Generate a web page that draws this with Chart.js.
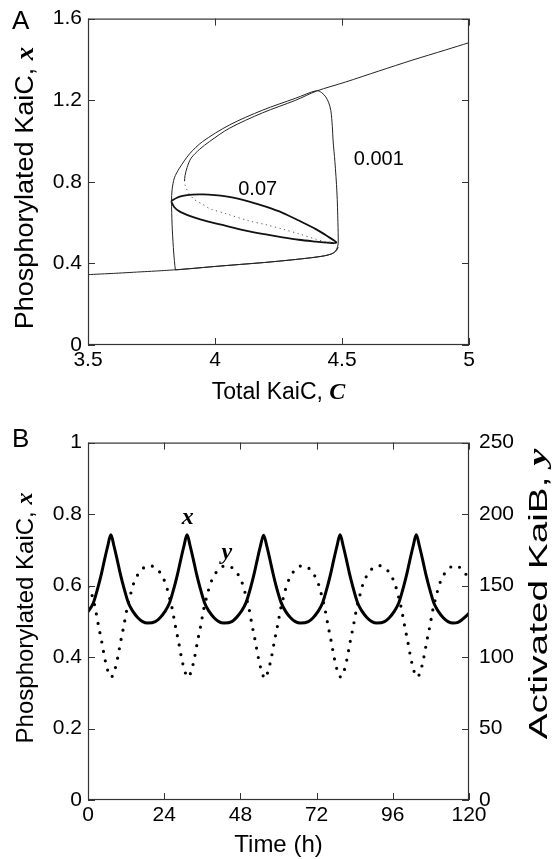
<!DOCTYPE html>
<html>
<head>
<meta charset="utf-8">
<script src="https://cdn.jsdelivr.net/npm/chart.js@4.4.1/dist/chart.umd.min.js"></script>
<style>
  html, body { margin: 0; padding: 0; background: #fff; }
  #wrap { position: relative; width: 552px; height: 859px; overflow: hidden; }
  canvas { position: absolute; left: 0; }
  #chartA { top: 0; }
  #chartB { top: 420px; }
</style>
</head>
<body>
<div id="wrap">
  <canvas id="chartA" width="552" height="420"></canvas>
  <canvas id="chartB" width="552" height="439"></canvas>
</div>
<script>
// ---- Panel A: total KaiC C vs phosphorylated KaiC x ----
var lowerBranchC = [3.5, 3.6, 3.7, 3.8, 3.9, 4.0, 4.1, 4.2, 4.3, 4.38, 4.43, 4.46, 4.478, 4.485];
var lowerBranchX = [0.345, 0.351, 0.358, 0.365, 0.374, 0.385, 0.395, 0.405, 0.417, 0.428, 0.437, 0.447, 0.462, 0.48];

var middleBranchC = [4.485, 4.469, 4.43, 4.397, 4.33, 4.266, 4.2, 4.135, 4.04, 3.98, 3.951, 3.92, 3.9, 3.888, 3.882, 3.88];
var middleBranchX = [0.48, 0.498, 0.508, 0.519, 0.545, 0.568, 0.59, 0.608, 0.645, 0.668, 0.69, 0.712, 0.738, 0.765, 0.785, 0.803];

var upperBranchC = [3.88, 3.882, 3.89, 3.906, 3.94, 3.978, 4.056, 4.187, 4.318, 4.4, 4.514, 4.645, 4.776, 4.907, 5.0];
var upperBranchX = [0.803, 0.83, 0.87, 0.916, 0.96, 0.997, 1.062, 1.138, 1.2, 1.245, 1.289, 1.343, 1.396, 1.446, 1.482];

var cycleSlowC = [3.844, 3.9, 4.0, 4.1, 4.2, 4.3, 4.38, 4.43, 4.46, 4.474, 4.482, 4.485, 4.484, 4.48, 4.472, 4.465, 4.462, 4.456, 4.447, 4.436, 4.42, 4.4,
                  4.318, 4.187, 4.056, 3.951, 3.9, 3.86, 3.84, 3.831, 3.829, 3.831, 3.836, 3.84, 3.844];
var cycleSlowX = [0.368, 0.374, 0.385, 0.395, 0.405, 0.417, 0.428, 0.437, 0.447, 0.46, 0.48, 0.5, 0.6, 0.75, 0.9, 1.0, 1.07, 1.15, 1.19, 1.216, 1.237, 1.247,
                  1.21, 1.151, 1.078, 0.997, 0.937, 0.867, 0.819, 0.76, 0.705, 0.592, 0.478, 0.414, 0.368];

var cycleFastC = [3.827, 3.85, 3.873, 3.91, 3.951, 4.0, 4.043, 4.09, 4.135, 4.2, 4.266, 4.33, 4.397, 4.44, 4.478,
                  4.44, 4.397, 4.33, 4.266, 4.2, 4.135, 4.09, 4.043, 3.99, 3.939, 3.9, 3.86, 3.84, 3.827];
var cycleFastX = [0.705, 0.722, 0.731, 0.737, 0.738, 0.735, 0.729, 0.718, 0.703, 0.678, 0.648, 0.61, 0.568, 0.535, 0.502,
                  0.502, 0.507, 0.516, 0.528, 0.542, 0.557, 0.569, 0.584, 0.6, 0.617, 0.633, 0.655, 0.675, 0.705];

// ---- Panel B: time courses ----
var xTime = [0, 1.7, 3.2, 4.2, 5.2, 6.2, 7.2, 8.2, 9.2, 10.2, 11.2, 12.7, 14.2, 15.7, 17.2, 18.8,
  21.2, 22.7, 24.2, 25.7, 27.2, 28.2, 29.2, 30.2, 31.2, 32.2, 33.2, 34.2, 35.2, 36.7, 38.2, 39.7, 41.2, 42.8,
  45.3, 46.8, 48.3, 49.8, 51.3, 52.3, 53.3, 54.3, 55.3, 56.3, 57.3, 58.3, 59.3, 60.8, 62.3, 63.8, 65.3, 66.9,
  69.4, 70.9, 72.4, 73.9, 75.4, 76.4, 77.4, 78.4, 79.4, 80.4, 81.4, 82.4, 83.4, 84.9, 86.4, 87.9, 89.4, 91.0,
  93.4, 94.9, 96.4, 97.9, 99.4, 100.4, 101.4, 102.4, 103.4, 104.4, 105.4, 106.4, 107.4, 108.9, 110.4, 111.9, 113.4, 115.0,
  116.5, 118, 120];
var xValue = [0.527, 0.552, 0.597, 0.632, 0.672, 0.71, 0.742, 0.71, 0.672, 0.632, 0.597, 0.552, 0.527, 0.51, 0.499, 0.495,
  0.499, 0.51, 0.527, 0.552, 0.597, 0.632, 0.672, 0.71, 0.742, 0.71, 0.672, 0.632, 0.597, 0.552, 0.527, 0.51, 0.499, 0.495,
  0.499, 0.511, 0.528, 0.553, 0.597, 0.632, 0.672, 0.71, 0.741, 0.711, 0.673, 0.633, 0.597, 0.553, 0.527, 0.51, 0.499, 0.495,
  0.499, 0.51, 0.527, 0.552, 0.597, 0.632, 0.672, 0.71, 0.742, 0.71, 0.672, 0.632, 0.597, 0.552, 0.527, 0.51, 0.499, 0.495,
  0.499, 0.51, 0.527, 0.552, 0.597, 0.632, 0.672, 0.71, 0.742, 0.71, 0.672, 0.632, 0.597, 0.552, 0.527, 0.51, 0.499, 0.495,
  0.497, 0.506, 0.522];

var yTime = [0, 1.3, 2.3, 3.3, 4.3, 5.3, 6.3, 7.3, 8.3, 9.3, 10.3, 11.3, 12.3, 13.3, 14.3, 15.8, 17.3, 19.2,
  21.5, 23, 24.5, 25.5, 26.5, 27.5, 28.5, 29.5, 30.5, 31.5, 32.5, 33.5, 34.5, 35.5, 36.5, 37.5, 38.5, 40, 41.5, 43.5,
  45.7, 47.2, 48.7, 49.7, 50.7, 51.7, 52.7, 53.7, 54.7, 55.7, 56.7, 57.7, 58.7, 59.7, 60.7, 61.7, 62.7, 64.2, 65.7, 67.6,
  69.6, 71.1, 72.6, 73.6, 74.6, 75.6, 76.6, 77.6, 78.6, 79.6, 80.6, 81.6, 82.6, 83.6, 84.6, 85.6, 86.6, 88.1, 89.6, 91.6,
  93.7, 95.2, 96.7, 97.7, 98.7, 99.7, 100.7, 101.7, 102.7, 103.7, 104.7, 105.7, 106.7, 107.7, 108.7, 109.7, 110.7, 112.2, 113.7, 115.5,
  117.5, 119, 120];
var yValue = [149, 143, 134, 122, 111, 99, 90, 86, 90, 99, 111, 122, 134, 143, 151, 158, 162, 164,
  162, 158, 151, 143, 134, 122, 111, 99, 90, 86, 90, 99, 111, 122, 134, 143, 151, 158, 162, 164,
  162, 158, 151, 143, 134, 122, 111, 99, 90, 85, 90, 99, 111, 122, 134, 143, 151, 158, 162, 164,
  162, 158, 151, 143, 134, 122, 111, 99, 90, 86, 90, 99, 111, 122, 134, 143, 151, 158, 162, 164,
  162, 158, 151, 143, 134, 122, 111, 99, 90, 86, 90, 99, 111, 122, 134, 143, 151, 158, 162, 164,
  162, 158, 154];

var SANS = '"Liberation Sans", Arial, sans-serif';
Chart.defaults.font.family = SANS;
Chart.defaults.color = '#000';

function serifBI(size) { return 'bold italic ' + size + 'px "Liberation Serif", serif'; }
function sans(size) { return size + 'px ' + SANS; }

function pairs(xs, ys) {
    return xs.map(function (v, i) { return { x: v, y: ys[i] }; });
}

function plainNumber(v) {
    return String(Math.round(v * 100) / 100);
}

function drawParts(ctx, parts, x, y, rot, align, stretch) {
    ctx.save();
    ctx.translate(x, y);
    if (rot) ctx.rotate(rot);
    if (stretch) ctx.scale(stretch, 1);
    var total = 0;
    parts.forEach(function (p) { ctx.font = p.font; total += ctx.measureText(p.text).width; });
    var cx = align === 'left' ? 0 : -total / 2;
    ctx.textBaseline = 'middle';
    ctx.textAlign = 'left';
    ctx.fillStyle = '#000';
    parts.forEach(function (p) {
        ctx.font = p.font;
        ctx.fillText(p.text, cx, 0);
        cx += ctx.measureText(p.text).width;
    });
    ctx.restore();
}

// frame, inward ticks and text labels
var decor = {
    id: 'decor',
    afterDraw: function (chart, args, opts) {
        var ctx = chart.ctx, a = chart.chartArea;
        ctx.save();
        ctx.strokeStyle = '#333';
        ctx.lineWidth = 1.2;
        ctx.strokeRect(a.left + 0.5, a.top + 0.5, a.right - a.left - 1, a.bottom - a.top - 1);
        ctx.lineWidth = 1;
        (opts.tickSides || []).forEach(function (t) {
            var sc = chart.scales[t.id];
            sc.ticks.forEach(function (tk) {
                var p = Math.round(sc.getPixelForValue(tk.value)) + 0.5;
                ctx.beginPath();
                if (sc.isHorizontal()) {
                    ctx.moveTo(p, a.bottom); ctx.lineTo(p, a.bottom - 7);
                    ctx.moveTo(p, a.top); ctx.lineTo(p, a.top + 7);
                } else {
                    if (t.left) { ctx.moveTo(a.left, p); ctx.lineTo(a.left + 7, p); }
                    if (t.right) { ctx.moveTo(a.right, p); ctx.lineTo(a.right - 7, p); }
                }
                ctx.stroke();
            });
        });
        ctx.restore();
        (opts.texts || []).forEach(function (t) {
            var x = t.px, y = t.py;
            if (t.xs) { x = chart.scales[t.xs].getPixelForValue(t.xv); y = chart.scales[t.ys].getPixelForValue(t.yv); }
            drawParts(ctx, t.parts, x, y, t.rot || 0, t.align, t.stretch);
        });
    }
};

function tickFont() { return { size: 21, family: SANS }; }

// ---------- Chart A ----------
new Chart(document.getElementById('chartA'), {
    type: 'scatter',
    data: {
        datasets: [
            { data: pairs(lowerBranchC, lowerBranchX), showLine: true, borderColor: '#222', borderWidth: 1, tension: 0.2 },
            { data: pairs(middleBranchC, middleBranchX), showLine: true, borderColor: '#555', borderWidth: 1, borderDash: [1.2, 3.5], tension: 0.3 },
            { data: pairs(upperBranchC, upperBranchX), showLine: true, borderColor: '#222', borderWidth: 1, tension: 0.3 },
            { data: pairs(cycleSlowC, cycleSlowX), showLine: true, borderColor: '#222', borderWidth: 1, tension: 0.3 },
            { data: pairs(cycleFastC, cycleFastX), showLine: true, borderColor: '#111', borderWidth: 1.8, tension: 0.3 }
        ]
    },
    options: {
        responsive: false,
        animation: false,
        layout: { padding: { top: 16, right: 83, left: 0, bottom: 0 } },
        elements: { point: { radius: 0 } },
        plugins: {
            legend: { display: false },
            tooltip: { enabled: false },
            decor: {
                tickSides: [{ id: 'x' }, { id: 'y', left: true, right: true }],
                texts: [
                    { parts: [{ text: 'A', font: sans(26) }], px: 12, py: 22, align: 'left' },
                    { parts: [{ text: 'Phosphorylated KaiC, ', font: sans(26) }, { text: 'x', font: serifBI(26) }], px: 26, py: 188, rot: -Math.PI / 2, stretch: 1.04 },
                    { parts: [{ text: 'Total KaiC, ', font: sans(23) }, { text: 'C', font: serifBI(24) }], px: 278.5, py: 393 },
                    { parts: [{ text: '0.07', font: sans(20) }], xs: 'x', ys: 'y', xv: 4.168, yv: 0.761 },
                    { parts: [{ text: '0.001', font: sans(20) }], xs: 'x', ys: 'y', xv: 4.645, yv: 0.91 }
                ]
            }
        },
        scales: {
            x: {
                type: 'linear', min: 3.5, max: 5,
                ticks: { stepSize: 0.5, padding: 3, font: tickFont(), color: '#000', callback: plainNumber },
                grid: { display: false, drawTicks: false },
                border: { display: false },
                afterFit: function (s) { s.height = 75; }
            },
            y: {
                type: 'linear', min: 0, max: 1.6,
                ticks: { stepSize: 0.4, padding: 6, font: tickFont(), color: '#000', callback: plainNumber },
                grid: { display: false, drawTicks: false },
                border: { display: false },
                afterFit: function (s) { s.width = 88; }
            }
        }
    },
    plugins: [decor]
});

// ---------- Chart B ----------
new Chart(document.getElementById('chartB'), {
    type: 'line',
    data: {
        datasets: [
            { label: 'x', data: pairs(xTime, xValue), yAxisID: 'y', borderColor: '#000', borderWidth: 3, cubicInterpolationMode: 'monotone', pointRadius: 0 },
            { label: 'y', data: pairs(yTime, yValue), yAxisID: 'y2', borderColor: '#000', borderWidth: 3.2, borderDash: [0, 9.5], borderCapStyle: 'round', cubicInterpolationMode: 'monotone', pointRadius: 0 }
        ]
    },
    options: {
        responsive: false,
        animation: false,
        layout: { padding: { top: 16, right: 0, left: 0, bottom: 0 } },
        plugins: {
            legend: { display: false },
            tooltip: { enabled: false },
            decor: {
                tickSides: [{ id: 'x' }, { id: 'y', left: true, right: true }],
                texts: [
                    { parts: [{ text: 'B', font: sans(26) }], px: 12, py: 20, align: 'left' },
                    { parts: [{ text: 'Phosphorylated KaiC, ', font: sans(24) }, { text: 'x', font: serifBI(24) }], px: 26, py: 198, rot: -Math.PI / 2 },
                    { parts: [{ text: 'Activated KaiB, ', font: sans(25) }, { text: 'y', font: serifBI(25) }], px: 540, py: 174, rot: -Math.PI / 2, stretch: 1.55 },
                    { parts: [{ text: 'Time (h)', font: sans(24) }], px: 278.5, py: 425 },
                    { parts: [{ text: 'x', font: serifBI(24) }], xs: 'x', ys: 'y', xv: 31.4, yv: 0.79 },
                    { parts: [{ text: 'y', font: serifBI(24) }], xs: 'x', ys: 'y2', xv: 43.7, yv: 173 }
                ]
            }
        },
        scales: {
            x: {
                type: 'linear', min: 0, max: 120,
                ticks: { stepSize: 24, padding: 3, font: tickFont(), color: '#000', callback: plainNumber },
                grid: { display: false, drawTicks: false },
                border: { display: false },
                afterFit: function (s) { s.height = 59; }
            },
            y: {
                type: 'linear', position: 'left', min: 0, max: 1,
                ticks: { stepSize: 0.2, padding: 6, font: tickFont(), color: '#000', callback: plainNumber },
                grid: { display: false, drawTicks: false },
                border: { display: false },
                afterFit: function (s) { s.width = 88; }
            },
            y2: {
                type: 'linear', position: 'right', min: 0, max: 250,
                ticks: { stepSize: 50, padding: 10, font: tickFont(), color: '#000', callback: plainNumber },
                grid: { display: false, drawTicks: false },
                border: { display: false },
                afterFit: function (s) { s.width = 83; }
            }
        }
    },
    plugins: [decor]
});
</script>
</body>
</html>
